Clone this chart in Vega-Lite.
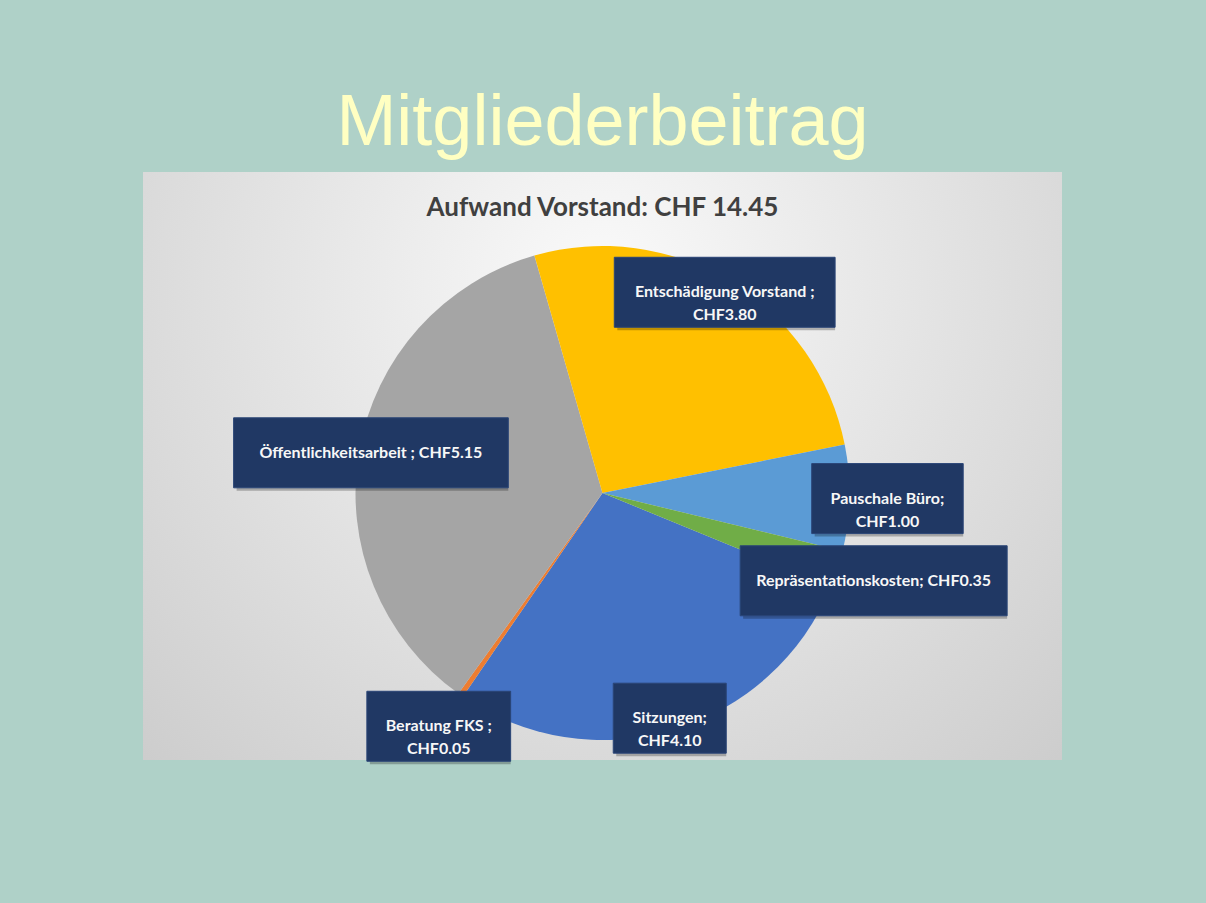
{
  "$schema": "https://vega.github.io/schema/vega-lite/v6.json",
  "autosize": {"type": "none"},
  "width": 919,
  "height": 588,
  "padding": {"left": 143, "top": 172, "right": 144, "bottom": 143},
  "background": "#AFD1C8",
  "title": {
    "text": "Mitgliederbeitrag",
    "subtitle": "Aufwand Vorstand: CHF 14.45",
    "anchor": "middle",
    "orient": "top",
    "offset": -49.5,
    "subtitlePadding": 34.5,
    "font": "Liberation Sans",
    "fontSize": 72,
    "fontWeight": "normal",
    "color": "#FFFFC2",
    "subtitleFont": "Lato",
    "subtitleFontSize": 26,
    "subtitleFontWeight": "bold",
    "subtitleColor": "#404040",
    "zindex": 1
  },
  "data": {
    "values": [
      {"category": "Sitzungen", "value": 4.10, "label": "Sitzungen;\nCHF4.10"},
      {"category": "Beratung FKS", "value": 0.05, "label": "Beratung FKS ;\nCHF0.05"},
      {"category": "Öffentlichkeitsarbeit", "value": 5.15, "label": "Öffentlichkeitsarbeit ; CHF5.15"},
      {"category": "Entschädigung Vorstand", "value": 3.80, "label": "Entschädigung Vorstand ;\nCHF3.80"},
      {"category": "Pauschale Büro", "value": 1.00, "label": "Pauschale Büro;\nCHF1.00"},
      {"category": "Repräsentationskosten", "value": 0.35, "label": "Repräsentationskosten; CHF0.35"}
    ]
  },
  "transform": [
    {"window": [{"op": "row_number", "as": "idx"}, {"op": "sum", "field": "value", "as": "cum"}], "frame": [null, 0]},
    {"joinaggregate": [{"op": "sum", "field": "value", "as": "total"}]},
    {"calculate": "1.960 + 2*PI*(datum.cum - datum.value/2)/datum.total", "as": "mid"},
    {"calculate": "datum.value/datum.total > 0.2 ? 235 : 285", "as": "lr"},
    {"calculate": "datum.lr*sin(datum.mid)", "as": "lx"},
    {"calculate": "datum.lr*cos(datum.mid)", "as": "ly"},
    {"calculate": "split(datum.label, '\\n')", "as": "lines"},
    {"calculate": "max(length(datum.lines[0]), length(peek(datum.lines)))*7.7 + 36", "as": "bw"},
    {"calculate": "datum.lx - datum.bw/2", "as": "bx1"},
    {"calculate": "datum.lx + datum.bw/2", "as": "bx2"},
    {"calculate": "datum.ly - 35", "as": "by1"},
    {"calculate": "datum.ly + 35", "as": "by2"}
  ],
  "layer": [
    {
      "data": {"values": [{}]},
      "mark": {
        "type": "rect",
        "fill": {
          "gradient": "radial",
          "x1": 0.5, "y1": 0.3, "x2": 0.5, "y2": 0.3, "r1": 0, "r2": 0.75,
          "stops": [{"offset": 0, "color": "#FAFAFA"}, {"offset": 1, "color": "#CBCBCB"}]
        }
      },
      "encoding": {}
    },
    {
      "mark": {"type": "arc", "outerRadius": 247},
      "encoding": {
        "x": {"datum": 0, "type": "quantitative", "scale": {"domain": [-459.5, 459.5], "nice": false, "zero": false}, "axis": null},
        "y": {"datum": 0, "type": "quantitative", "scale": {"domain": [-267, 321], "nice": false, "zero": false}, "axis": null},
        "theta": {"field": "value", "type": "quantitative", "stack": true, "scale": {"range": [1.960, 8.2432]}},
        "order": {"field": "idx", "type": "quantitative"},
        "color": {
          "field": "category", "type": "nominal", "legend": null,
          "scale": {
            "domain": ["Sitzungen", "Beratung FKS", "Öffentlichkeitsarbeit", "Entschädigung Vorstand", "Pauschale Büro", "Repräsentationskosten"],
            "range": ["#4472C4", "#ED7D31", "#A5A5A5", "#FFC000", "#5B9BD5", "#70AD47"]
          }
        }
      }
    },
    {
      "mark": {"type": "rect", "fill": "#000000", "opacity": 0.25, "xOffset": 3, "yOffset": 3},
      "encoding": {
        "x": {"field": "bx1", "type": "quantitative"},
        "x2": {"field": "bx2"},
        "y": {"field": "by1", "type": "quantitative"},
        "y2": {"field": "by2"}
      }
    },
    {
      "mark": {"type": "rect", "fill": "#203864", "stroke": "#2B4678", "strokeWidth": 1},
      "encoding": {
        "x": {"field": "bx1", "type": "quantitative"},
        "x2": {"field": "bx2"},
        "y": {"field": "by1", "type": "quantitative"},
        "y2": {"field": "by2"}
      }
    },
    {
      "mark": {"type": "text", "font": "Lato", "fontWeight": "bold", "fontSize": 16, "color": "#F7F7F7", "align": "center", "baseline": "middle", "lineBreak": "\n", "lineHeight": 23},
      "encoding": {
        "x": {"field": "lx", "type": "quantitative"},
        "y": {"field": "ly", "type": "quantitative"},
        "text": {"field": "label"}
      }
    }
  ],
  "config": {"view": {"stroke": null}}
}
